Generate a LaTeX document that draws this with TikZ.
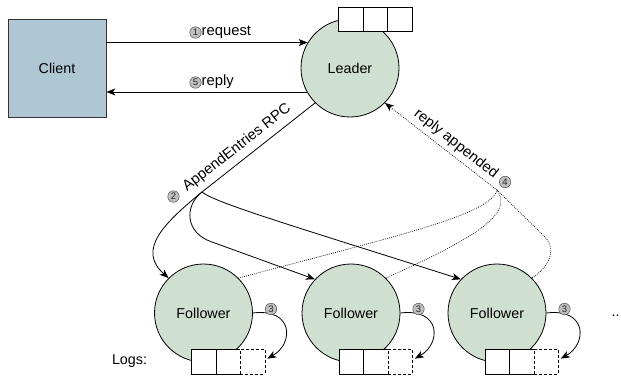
\documentclass[tikz,border=0pt]{standalone}
\usepackage{fontspec}
\setmainfont{Liberation Sans}
\usetikzlibrary{arrows.meta}
\definecolor{clientfill}{HTML}{AFC7D5}
\definecolor{nodefill}{HTML}{CFE0D1}
\begin{document}
\begin{tikzpicture}[x=1pt,y=-1pt,font=\fontsize{14.3}{17}\selectfont,
  clientbox/.style={draw=black!80,fill=clientfill,minimum width=98pt,minimum height=98pt,inner sep=0pt,line width=0.8pt},
  srv/.style={circle,draw=black,fill=nodefill,minimum size=98pt,inner sep=0pt,line width=0.8pt},
  cell/.style={draw,fill=white,minimum width=24.5pt,minimum height=24.5pt,inner sep=0pt,anchor=north west,line width=0.8pt},
  newcell/.style={cell,dash pattern=on 3pt off 2pt},
  arr/.style={-{Stealth[length=9pt,width=7pt,inset=2.5pt]},line width=0.8pt},
  dotl/.style={line width=0.7pt,dash pattern=on 0.8pt off 1.2pt},
  dotarr/.style={dotl,-{Stealth[length=9pt,width=7pt,inset=2.5pt]}},
  lbl/.style={font=\fontsize{14.8}{17}\selectfont,inner sep=0pt},
  cnumstyle/.style={circle,draw=black!75,fill=black!25,inner sep=0pt,minimum size=11.5pt,font=\fontsize{9.5}{9.5}\selectfont,text=black!85}]
\useasboundingbox (0,0) rectangle (621,377);

% nodes
\node[clientbox] (client) at (57,68) {Client};
\node[srv] (leader) at (350,68) {Leader};
\node[srv] (f1) at (203.5,313) {Follower};
\node[srv] (f2) at (351,313) {Follower};
\node[srv] (f3) at (497,313) {Follower};

% leader log
\node[cell,minimum height=24pt] (lc1) at (338,7) {};
\node[cell,minimum height=24pt] (lc2) at (362.5,7) {};
\node[cell,minimum height=24pt] (lc3) at (387,7) {};

% follower logs
\foreach \n/\cx in {1/203.5,2/351,3/497}{
  \node[cell] (f\n a) at (\cx-12.5,349) {};
  \node[cell] (f\n b) at (\cx+12,349) {};
  \node[newcell] (f\n c) at (\cx+36.5,349) {};
  \draw[arr] (f\n.east) .. controls +(41,-5) and +(26.5,-15) .. ([shift={(2,-3)}]f\n c.east);
  \node[cnumstyle] (s3\n) at (\cx+67.5,309) {3};
}

% client <-> leader
\draw[arr] (client.east |- leader.149.3) -- (leader.149.3);
\draw[arr] (leader.209.3) -- (client.east |- leader.209.3);
\node[cnumstyle] (n1) at (195.5,32.5) {1};
\node[lbl,anchor=west] (lreq) at (201.5,32) {request};
\node[cnumstyle] (n5) at (195.5,82.5) {5};
\node[lbl,anchor=west] (lrep) at (201.5,82) {reply};

% AppendEntries
\coordinate (j) at (202,192);
\draw[line width=0.8pt] (leader.225) -- (j);
\draw[arr] (j) .. controls (163,224) and (137,250) .. (f1.135);
\draw[arr] (j) .. controls (184,206) and (185,233) .. (212,242) -- (f2.137);
\draw[arr] (j) .. controls (215,203) and (300,228) .. (f3.137);
\node[cnumstyle] (n2) at (173.5,196.5) {2};
\node[lbl,rotate=38] (lae) at (237,148) {AppendEntries RPC};

% replies
\coordinate (k) at (497,190);
\draw[dotarr] (k) -- (leader.-45);
\draw[dotl] (f1.45) .. controls (400,235) and (490,215) .. (k);
\draw[dotl] (f2.45) .. controls (470,240) and (515,215) .. (k);
\draw[dotl] (k) -- (545,237) .. controls (553,245) and (556,262) .. (f3.45);
\node[lbl,rotate=-38] (lra) at (456,144) {reply appended};
\node[cnumstyle] (n4) at (505,182) {4};

% misc text
\node (logs) at (129.5,361) {Logs:};
\node[anchor=base] (dots) at (615.5,316.5) {..};
\end{tikzpicture}
\end{document}
